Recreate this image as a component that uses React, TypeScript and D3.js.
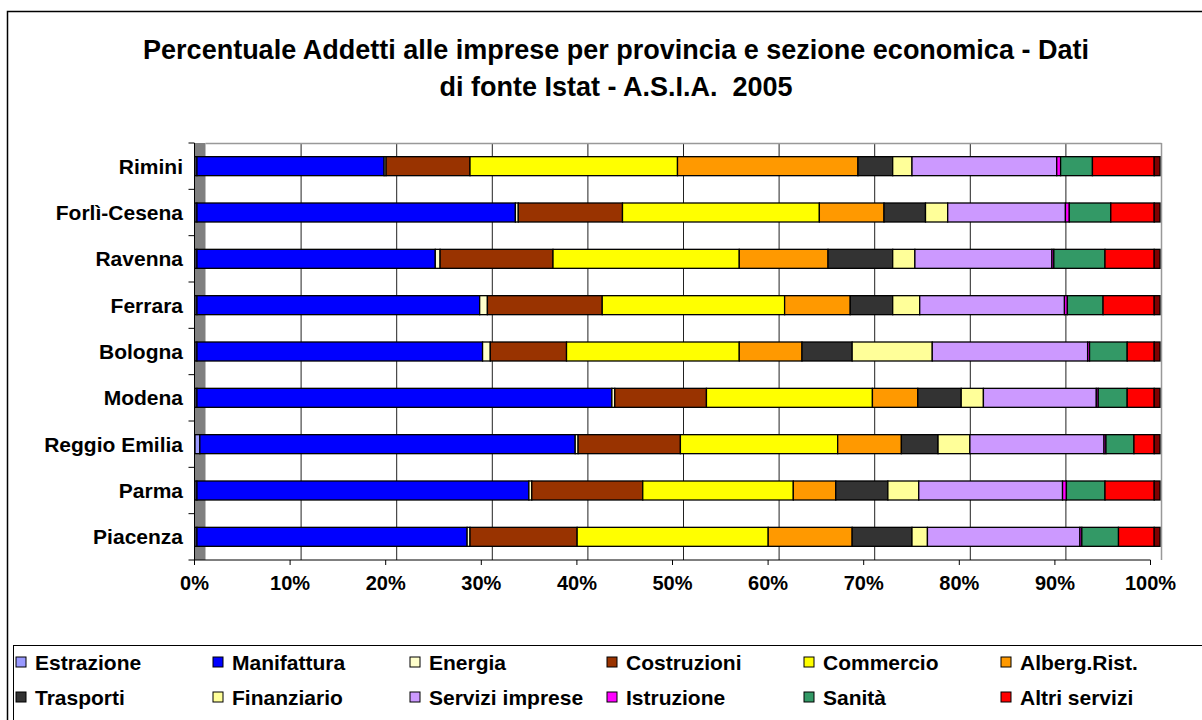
import React from "react";
import * as d3 from "d3";

const title1 = "Percentuale Addetti alle imprese per provincia e sezione economica - Dati";
const title2 = "di fonte Istat - A.S.I.A.  2005";

const provinces = ["Rimini", "Forlì-Cesena", "Ravenna", "Ferrara", "Bologna", "Modena", "Reggio Emilia", "Parma", "Piacenza"];

const sectors = ["Estrazione", "Manifattura", "Energia", "Costruzioni", "Commercio", "Alberg.Rist.", "Trasporti", "Finanziario", "Servizi imprese", "Istruzione", "Sanità", "Altri servizi", "Non classificato"];
const sectorColors = ["#9999FF", "#0000FF", "#FFFFCC", "#993300", "#FFFF00", "#FF9900", "#333333", "#FFFF99", "#CC99FF", "#FF00FF", "#339966", "#FF0000", "#800000"];
const legendSectors = sectors.slice(0, 12);

// values per province, order = sectors
const rimini = [0.2, 19.4, 0.2, 8.7, 21.5, 18.7, 3.6, 2.0, 15.0, 0.4, 3.3, 6.4, 0.6];
const forli = [0.2, 33.0, 0.3, 10.8, 20.4, 6.7, 4.3, 2.3, 12.2, 0.4, 4.3, 4.5, 0.6];
const ravenna = [0.2, 24.7, 0.5, 11.7, 19.3, 9.2, 6.7, 2.3, 14.2, 0.2, 5.3, 5.1, 0.6];
const ferrara = [0.2, 29.3, 0.8, 11.9, 18.9, 6.8, 4.4, 2.8, 15.0, 0.3, 3.7, 5.3, 0.6];
const bologna = [0.2, 29.6, 0.8, 7.9, 17.9, 6.5, 5.2, 8.3, 16.1, 0.2, 3.9, 2.8, 0.6];
const modena = [0.2, 43.0, 0.3, 9.5, 17.2, 4.7, 4.5, 2.3, 11.7, 0.2, 3.0, 2.8, 0.6];
const reggio = [0.5, 38.9, 0.3, 10.6, 16.3, 6.6, 3.8, 3.3, 13.9, 0.2, 2.9, 2.1, 0.6];
const parma = [0.2, 34.4, 0.3, 11.5, 15.6, 4.4, 5.4, 3.2, 14.9, 0.4, 4.0, 5.1, 0.6];
const piacenza = [0.2, 28.0, 0.3, 11.1, 19.8, 8.7, 6.2, 1.6, 15.8, 0.2, 3.8, 3.7, 0.6];
const provinceValues = [rimini, forli, ravenna, ferrara, bologna, modena, reggio, parma, piacenza];

const xTicks = [0, 10, 20, 30, 40, 50, 60, 70, 80, 90, 100];

const FONT = "'Liberation Sans', Arial, sans-serif";

export default function App() {
  const W = 1202, H = 720;
  const top = 143, bottom = 560;
  const frontL = 194.5, frontR = 1150.5;
  const depth = 11;

  const xFront = d3.scaleLinear().domain([0, 100]).range([frontL, frontR]);
  const xBack = d3.scaleLinear().domain([0, 100]).range([frontL + depth, frontR + depth]);
  const xBar = d3.scaleLinear().domain([0, 100]).range([195, 1160]);
  const y = d3.scaleBand().domain(provinces).range([top, bottom]).paddingInner(0.59).paddingOuter(0.295);
  const yTick = d3.scaleLinear().domain([0, provinces.length]).range([top, bottom]);

  const stacked = provinces.map((p, i) => {
    const vals = provinceValues[i];
    let acc = 0;
    return vals.map((v, k) => {
      const s = acc;
      acc += v;
      return { k, x0: s, x1: acc };
    });
  });

  const legendCols = d3.range(6).map(i => 16 + i * 197);
  const legendRows = [662, 697];

  return (
    <svg width={W} height={H} style={{ position: "absolute", left: 0, top: 0, background: "#fff" }} fontFamily={FONT}>
      <rect x={0} y={0} width={W} height={H} fill="#fff" />
      <rect x={7.5} y={11.5} width={W + 20} height={H + 20} fill="none" stroke="#000" strokeWidth={1.5} />
      <text x={616} y={59} textAnchor="middle" fontWeight="bold" fontSize={27}>{title1}</text>
      <text x={616} y={96} textAnchor="middle" fontWeight="bold" fontSize={27} style={{ whiteSpace: "pre" }}>{title2}</text>

      {/* side wall */}
      <rect x={frontL} y={top} width={depth} height={bottom - top} fill="#808080" />
      {/* back wall gridlines */}
      {xTicks.slice(1, -1).map(t => (
        <line key={t} x1={xBack(t)} x2={xBack(t)} y1={top} y2={bottom} stroke="#222" strokeWidth={1} />
      ))}
      <line x1={frontL + depth} x2={xBack(100)} y1={top + 0.5} y2={top + 0.5} stroke="#999" strokeWidth={1.5} />
      <line x1={xBack(100)} x2={xBack(100)} y1={top} y2={bottom} stroke="#999" strokeWidth={1.5} />

      {/* bars */}
      {stacked.map((segs, i) => (
        <g key={provinces[i]}>
          {segs.map(s => (
            <rect key={s.k} x={xBar(s.x0)} y={y(provinces[i])} width={Math.max(0, xBar(s.x1) - xBar(s.x0))} height={y.bandwidth()}
              fill={sectorColors[s.k]} stroke="#000" strokeWidth={1.3} />
          ))}
        </g>
      ))}

      {/* axes */}
      <line x1={frontL} x2={frontL} y1={top} y2={bottom} stroke="#000" strokeWidth={1} />
      {d3.range(provinces.length + 1).map(i => (
        <line key={i} x1={frontL - 6} x2={frontL} y1={yTick(i)} y2={yTick(i)} stroke="#000" strokeWidth={1} />
      ))}
      <line x1={frontL} x2={frontR} y1={bottom} y2={bottom} stroke="#000" strokeWidth={1} />
      {xTicks.map(t => (
        <g key={t}>
          <line x1={xFront(t)} x2={xFront(t)} y1={bottom} y2={bottom + 5} stroke="#000" strokeWidth={1} />
          <text x={xFront(t)} y={bottom + 30} textAnchor="middle" fontWeight="bold" fontSize={20}>{t}%</text>
        </g>
      ))}
      {provinces.map(p => (
        <text key={p} x={183} y={(y(p) as number) + y.bandwidth() / 2} dy="0.36em" textAnchor="end" fontWeight="bold" fontSize={21}>{p}</text>
      ))}

      {/* legend */}
      <rect x={13.5} y={645.5} width={W} height={H} fill="#fff" stroke="#000" strokeWidth={1} />
      {legendSectors.map((s, i) => {
        const col = i % 6, row = Math.floor(i / 6);
        const lx = legendCols[col], ly = legendRows[row];
        return (
          <g key={s}>
            <rect x={lx} y={ly - 5} width={10} height={10} fill={sectorColors[i]} stroke="#000" strokeWidth={1} />
            <text x={lx + 19} y={ly} dy="0.36em" fontWeight="bold" fontSize={21}>{s}</text>
          </g>
        );
      })}
    </svg>
  );
}
